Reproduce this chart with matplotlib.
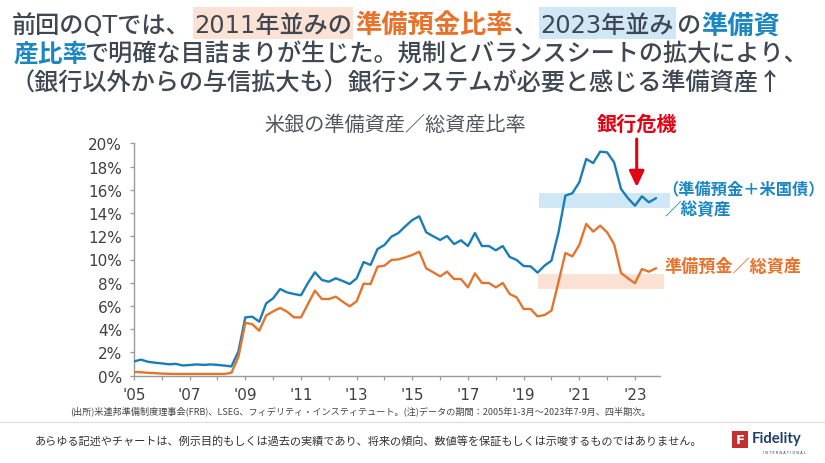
import matplotlib
matplotlib.use("Agg")
import matplotlib.pyplot as plt
import numpy as np
import pandas as pd
from matplotlib.patches import Rectangle
from matplotlib.lines import Line2D

# ---------------- data (quarterly) ----------------
quarters = pd.period_range("2005Q1", "2023Q4", freq="Q")

reserves_plus_ust = [  # (準備預金＋米国債)／総資産, %
    1.23, 1.38, 1.20, 1.12, 1.06, 0.98, 1.02, 0.88, 0.92, 0.97,
    0.93, 0.97, 0.93, 0.87, 0.80, 2.07, 5.02, 5.08, 4.65, 6.23,
    6.66, 7.46, 7.17, 7.03, 6.92, 7.98, 8.90, 8.24, 8.09, 8.38,
    8.15, 7.89, 8.38, 9.78, 9.53, 10.90, 11.25, 11.97, 12.28, 12.86,
    13.40, 13.72, 12.34, 12.00, 11.68, 12.02, 11.33, 11.65, 11.16, 12.28,
    11.16, 11.16, 10.79, 11.16, 10.22, 9.96, 9.44, 9.41, 8.87, 9.47,
    9.90, 12.30, 15.50, 15.70, 16.64, 18.65, 18.30, 19.28, 19.22, 18.36,
    16.07, 15.27, 14.63, 15.44, 14.92, 15.27,
]
reserves = [  # 準備預金／総資産, %
    0.32, 0.30, 0.25, 0.22, 0.18, 0.16, 0.15, 0.15, 0.15, 0.15,
    0.15, 0.15, 0.15, 0.15, 0.25, 1.60, 4.55, 4.43, 3.87, 5.18,
    5.54, 5.83, 5.51, 5.02, 5.02, 6.17, 7.32, 6.60, 6.60, 6.80,
    6.37, 5.97, 6.40, 7.92, 7.89, 9.38, 9.47, 9.96, 10.01, 10.19,
    10.39, 10.67, 9.24, 8.90, 8.55, 8.95, 8.32, 8.32, 7.60, 8.81,
    7.98, 7.98, 7.60, 7.98, 7.03, 6.74, 5.74, 5.74, 5.11, 5.22,
    5.60, 8.03, 10.56, 10.27, 11.25, 13.06, 12.40, 12.91, 12.34, 11.33,
    8.84, 8.38, 7.95, 9.18, 8.95, 9.24,
]
y_ticks = [0, 2, 4, 6, 8, 10, 12, 14, 16, 18, 20]
x_tick_years = [2005, 2007, 2009, 2011, 2013, 2015, 2017, 2019, 2021, 2023]
x_tick_labels = ["'05", "'07", "'09", "'11", "'13", "'15", "'17", "'19", "'21", "'23"]
blue_band = (2019.55, 2024.25, 14.43, 15.72)   # x0, x1, y0, y1
orange_band = (2019.51, 2024.04, 7.45, 8.74)

x = quarters.year + (quarters.quarter - 1) / 4.0

# ---------------- style ----------------
W, H = 825, 464
JP = ["Noto Sans CJK JP", "DejaVu Sans"]
JP_LATIN = ["DejaVu Sans", "Noto Sans CJK JP"]
GRAY = "#3e4752"
BLUE_T = "#1c86c3"
ORANGE_T = "#e8722b"
BLUE_L = "#1b7db6"
ORANGE_L = "#e2752d"
BLUE_HL = "#d0e8f5"
ORANGE_HL = "#fbe2d5"
RED = "#e50012"
AXC = "#9a9a9a"

fig = plt.figure(figsize=(W / 100, H / 100), dpi=100)
fig.patch.set_facecolor("white")


def fx(px):
    return px / W


def fy(py):
    return 1 - py / H


# ---------------- axes ----------------
ax = fig.add_axes([fx(134), fy(376.7), fx(660) - fx(134), fy(144.3) - fy(376.7)])
for b, col in ((blue_band, BLUE_HL), (orange_band, ORANGE_HL)):
    ax.add_patch(Rectangle((b[0], b[2]), b[1] - b[0], b[3] - b[2], facecolor=col,
                           edgecolor="none", zorder=1, clip_on=False))
ax.plot(x, reserves_plus_ust, color=BLUE_L, lw=1.7, zorder=3, solid_joinstyle="round")
ax.plot(x, reserves, color=ORANGE_L, lw=1.7, zorder=3, solid_joinstyle="round")

ax.set_xlim(2005, 2023.9)
ax.set_ylim(0, 20)
for s in ("top", "right"):
    ax.spines[s].set_visible(False)
for s in ("left", "bottom"):
    ax.spines[s].set_color(AXC)
    ax.spines[s].set_linewidth(1.0)
ax.set_yticks(y_ticks)
ax.set_yticklabels([f"{v}%" for v in y_ticks])
ax.set_xticks(x_tick_years)
ax.set_xticklabels(x_tick_labels)
ax.set_xticks(range(2005, 2024), minor=True)
ax.tick_params(axis="both", which="both", direction="out", length=3, width=0.9, color=AXC)
ax.tick_params(axis="y", pad=5.5, labelsize=11, labelcolor="#404040")
ax.tick_params(axis="x", pad=5, labelsize=11, labelcolor="#404040")
for lab in ax.get_xticklabels() + ax.get_yticklabels():
    lab.set_fontfamily("DejaVu Sans")

# ---------------- header ----------------
renderer = fig.canvas.get_renderer()
HFS = 17.4
KFS = 18.9   # key phrases (bold, coloured)


def draw_piece(px_left, base, txt, col, wt, fs, fam):
    t = fig.text(fx(px_left), fy(base), txt, ha="left", va="baseline", fontsize=fs,
                 color=col, family=fam, fontweight=wt, zorder=2)
    bb = t.get_window_extent(renderer)
    return bb.x0, bb.x1


def highlight(x0, x1, col):
    fig.add_artist(Rectangle((fx(x0), fy(40)), fx(x1) - fx(x0), fy(8) - fy(40),
                             transform=fig.transFigure, facecolor=col,
                             edgecolor="none", zorder=0))


base1 = 33.2
draw_piece(12, base1, "前回のQTでは、", GRAY, "medium", HFS, JP_LATIN)
a0, a1 = draw_piece(194, base1, "2011年並みの", GRAY, "medium", HFS, JP_LATIN)
box1_end = max(345, a1 + 1)
highlight(193, box1_end, ORANGE_HL)
b0, b1 = draw_piece(box1_end + 2, base1, "準備預金比率", ORANGE_T, "bold", KFS, JP_LATIN)
c0, c1 = draw_piece(b1 + 1, base1, "、", GRAY, "medium", HFS, JP_LATIN)
box2_start = max(539, c1 - 8)
d0, d1 = draw_piece(box2_start + 1, base1, "2023年並み", GRAY, "medium", HFS, JP_LATIN)
highlight(box2_start, d1 + 2, BLUE_HL)
e0, e1 = draw_piece(d1 + 3, base1, "の", GRAY, "medium", HFS, JP_LATIN)
draw_piece(e1 + 1, base1, "準備資", BLUE_T, "bold", KFS, JP_LATIN)

# lines 2 and 3
p0, p1 = draw_piece(13, 62.0, "産比率", BLUE_T, "bold", HFS + 0.4, JP)
draw_piece(p1 - 3, 62.0, "で明確な目詰まりが生じた。規制とバランスシートの拡大により、",
           GRAY, "medium", HFS, JP)
draw_piece(11, 90.2, "（銀行以外からの与信拡大も）銀行システムが必要と感じる準備資産↑",
           GRAY, "medium", HFS, JP)

# ---------------- chart annotations ----------------
fig.text(fx(395), fy(125), "米銀の準備資産／総資産比率", ha="center", va="center",
         fontsize=14.5, color="#50575f", family=JP)
fig.text(fx(637), fy(124), "銀行危機", ha="center", va="center", fontsize=14.5,
         fontweight="bold", color=RED, family=JP)
ax.annotate("", xy=(636.7, H - 188), xycoords="figure pixels",
            xytext=(636.7, H - 140), textcoords="figure pixels",
            arrowprops=dict(arrowstyle="-|>,head_length=0.95,head_width=0.45",
                            mutation_scale=10, color=RED, lw=2.2,
                            shrinkA=0, shrinkB=0),
            annotation_clip=False)

fig.text(fx(662), fy(189), "（準備預金＋米国債）", ha="left", va="center", fontsize=11.7,
         fontweight="bold", color=BLUE_T, family=JP)
fig.text(fx(665), fy(210), "／総資産", ha="left", va="center", fontsize=12,
         fontweight="bold", color=BLUE_T, family=JP)
fig.text(fx(665), fy(266.5), "準備預金／総資産", ha="left", va="center", fontsize=12.3,
         fontweight="bold", color=ORANGE_T, family=JP)

# ---------------- footer ----------------
fig.text(fx(70), fy(411),
         "(出所)米連邦準備制度理事会(FRB)、LSEG、フィデリティ・インスティテュート。"
         "(注)データの期間：2005年1-3月～2023年7-9月、四半期次。",
         ha="left", va="center", fontsize=6.55, color="#444444", family=JP)
fig.add_artist(Line2D([0, 1], [fy(423), fy(423)], transform=fig.transFigure,
                      color="#dcdcdc", lw=0.8))
fig.text(fx(35), fy(441),
         "あらゆる記述やチャートは、例示目的もしくは過去の実績であり、将来の傾向、"
         "数値等を保証もしくは示唆するものではありません。",
         ha="left", va="center", fontsize=8.05, color="#333333", family=JP)

# logo
fig.add_artist(Rectangle((fx(732), fy(448.5)), fx(748.5) - fx(732), fy(432) - fy(448.5),
                         transform=fig.transFigure, facecolor="#c1312d", edgecolor="none"))
fig.text(fx(740.3), fy(440.5), "F", ha="center", va="center", fontsize=9.5,
         fontweight="bold", color="white", family="DejaVu Sans")
fig.text(fx(752), fy(439.5), "Fidelity", ha="left", va="center", fontsize=10.7,
         fontweight="bold", color="#1f3f6e", family="Lato")
fig.text(fx(784), fy(453), "I N T E R N A T I O N A L", ha="center", va="center",
         fontsize=2.6, color="#1f3f6e", family="DejaVu Sans")

fig.savefig("out.png", dpi=100)
